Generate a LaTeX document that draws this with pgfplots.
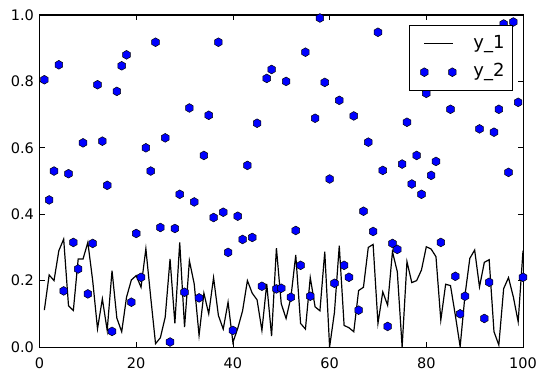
\documentclass[border=0pt]{standalone}
\usepackage{fontspec}
\setmainfont{DejaVu Sans}
\usepackage{pgfplots}
\pgfplotsset{compat=1.18}
\pgfdeclareplotmark{hexagon}{%
  \pgfpathmoveto{\pgfpointpolar{90}{\pgfplotmarksize}}%
  \pgfpathlineto{\pgfpointpolar{150}{\pgfplotmarksize}}%
  \pgfpathlineto{\pgfpointpolar{210}{\pgfplotmarksize}}%
  \pgfpathlineto{\pgfpointpolar{270}{\pgfplotmarksize}}%
  \pgfpathlineto{\pgfpointpolar{330}{\pgfplotmarksize}}%
  \pgfpathlineto{\pgfpointpolar{30}{\pgfplotmarksize}}%
  \pgfpathclose
  \pgfusepathqfillstroke}
\newcommand\hexicon[1]{\draw[black, fill=blue, line width=0.5pt] (#1,0pt) +(90:4.4pt) -- +(150:4.4pt) -- +(210:4.4pt) -- +(270:4.4pt) -- +(330:4.4pt) -- +(30:4.4pt) -- cycle;}
\pgfplotstableread{
x y
1 0.111
2 0.217
3 0.200
4 0.290
5 0.325
6 0.124
7 0.110
8 0.265
9 0.265
10 0.315
11 0.200
12 0.055
13 0.145
14 0.050
15 0.230
16 0.087
17 0.046
18 0.150
19 0.202
20 0.215
21 0.180
22 0.296
23 0.150
24 0.010
25 0.028
26 0.090
27 0.265
28 0.071
29 0.315
30 0.060
31 0.260
32 0.190
33 0.035
34 0.162
35 0.100
36 0.209
37 0.095
38 0.054
39 0.135
40 0.014
41 0.056
42 0.109
43 0.200
44 0.162
45 0.142
46 0.050
47 0.190
48 0.033
49 0.298
50 0.130
51 0.086
52 0.150
53 0.277
54 0.071
55 0.054
56 0.209
57 0.121
58 0.109
59 0.287
60 0.000
61 0.104
62 0.305
63 0.065
64 0.058
65 0.046
66 0.170
67 0.180
68 0.300
69 0.309
70 0.071
71 0.166
72 0.126
73 0.287
74 0.227
75 0.000
76 0.257
77 0.194
78 0.200
79 0.232
80 0.302
81 0.295
82 0.272
83 0.081
84 0.189
85 0.185
86 0.096
87 0.001
88 0.156
89 0.267
90 0.292
91 0.181
92 0.255
93 0.263
94 0.046
95 0.006
96 0.176
97 0.209
98 0.151
99 0.076
100 0.290
}\lineA
\pgfplotstableread{
x y
1 0.805
2 0.443
3 0.53
4 0.85
5 0.169
6 0.522
7 0.315
8 0.235
9 0.615
10 0.16
11 0.312
12 0.79
13 0.62
14 0.487
15 0.047
16 0.77
17 0.847
18 0.88
19 0.135
20 0.342
21 0.21
22 0.60
23 0.53
24 0.918
25 0.36
26 0.63
27 0.015
28 0.357
29 0.46
30 0.165
31 0.72
32 0.437
33 0.148
34 0.577
35 0.698
36 0.39
37 0.918
38 0.406
39 0.285
40 0.05
41 0.394
42 0.324
43 0.547
44 0.33
45 0.674
46 0.183
47 0.809
48 0.836
49 0.175
50 0.177
51 0.80
52 0.15
53 0.351
54 0.246
55 0.888
56 0.153
57 0.689
58 0.991
59 0.797
60 0.506
61 0.192
62 0.743
63 0.246
64 0.21
65 0.696
66 0.111
67 0.409
68 0.617
69 0.348
70 0.948
71 0.532
72 0.062
73 0.312
74 0.294
75 0.551
76 0.677
77 0.491
78 0.577
79 0.46
80 0.764
81 0.517
82 0.559
83 0.315
84 0.86
85 0.716
86 0.213
87 0.10
88 0.153
89 0.82
90 0.90
91 0.657
92 0.086
93 0.195
94 0.647
95 0.716
96 0.973
97 0.526
98 0.979
99 0.737
100 0.21
}\scatB
\begin{document}
\begin{tikzpicture}
\begin{axis}[
  scale only axis, width=483.5pt, height=332pt,
  xmin=0, xmax=100, ymin=0, ymax=1,
  xtick={0,20,40,60,80,100},
  ytick={0,0.2,0.4,0.6,0.8,1},
  /pgf/number format/assume math mode=true,
  yticklabel style={/pgf/number format/fixed, /pgf/number format/precision=1, /pgf/number format/fixed zerofill, xshift=-2pt},
  xticklabel style={yshift=-7pt},
  ticklabel style={font=\fontsize{14.5}{16}\selectfont},
  tick align=inside, major tick length=5pt,
  tick style={black, line width=0.8pt},
  minor tick num=0,
  axis line style={black, line width=1pt},
  legend cell align=left,
  legend style={at={(1,1)}, anchor=north east, xshift=-10pt, yshift=-10pt,
    draw=black, line width=1pt, inner xsep=8pt, inner ysep=9.8pt,
    font=\fontsize{18}{20}\selectfont,
    nodes={font=\fontsize{18}{20}\selectfont, inner sep=0pt, text height=13pt, text depth=4pt},
    column sep=17pt, row sep=11.4pt},
]
\addplot[black, line width=1.2pt, mark=none,
  legend image code/.code={\path (0pt,0pt); \draw[black, line width=1.2pt] (6pt,0pt) -- (35pt,0pt);}]
  table[x=x, y=y] {\lineA};
\addlegendentry{y\_1}
\addplot[only marks, mark=hexagon, mark size=4.4pt,
  mark options={fill=blue, draw=black, line width=0.5pt},
  legend image code/.code={\path (0pt,0pt); \hexicon{6pt}\hexicon{34pt}}]
  table[x=x, y=y] {\scatB};
\addlegendentry{y\_2}
\end{axis}
\pgfresetboundingbox
\path ([shift={(-39.5pt,-31pt)}]current axis.south west) rectangle ([shift={(25pt,15pt)}]current axis.north east);
\end{tikzpicture}
\end{document}
